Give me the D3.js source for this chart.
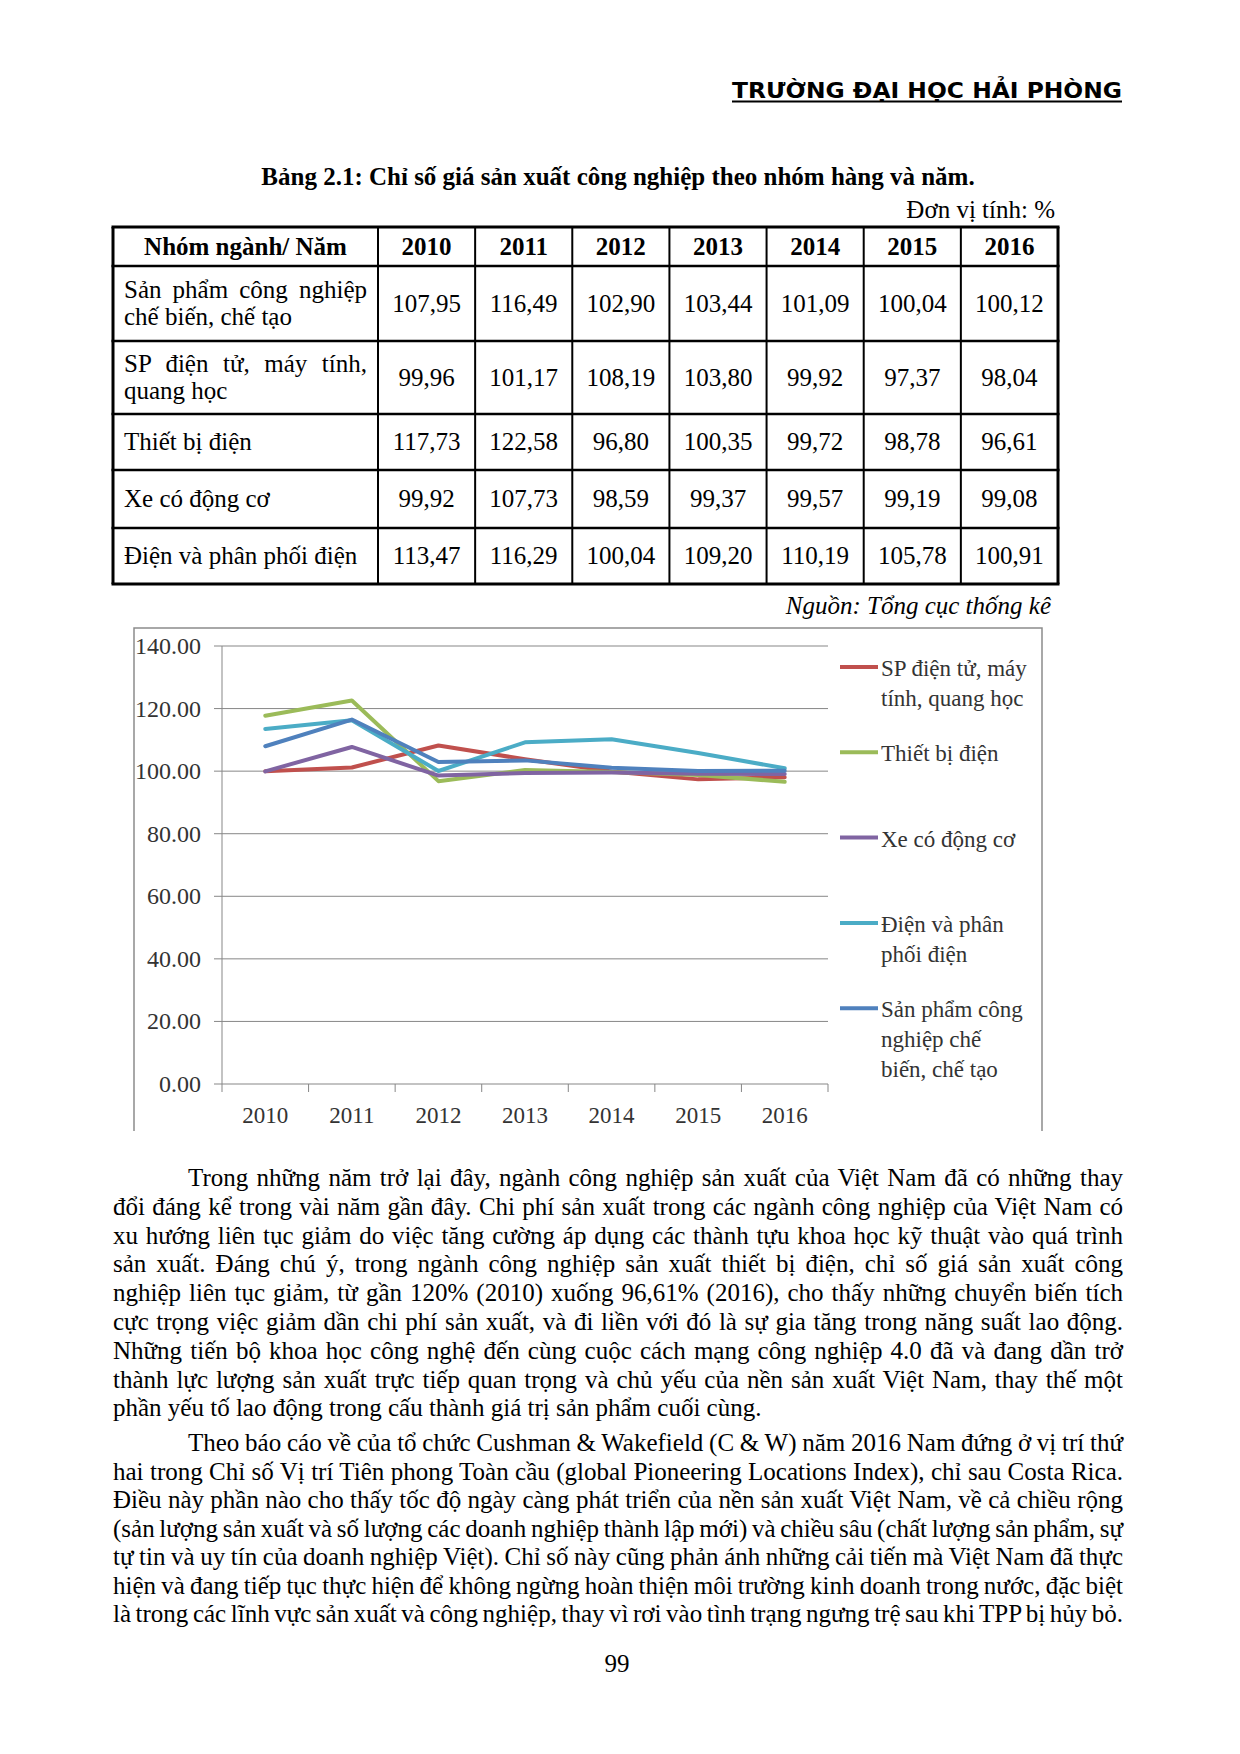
<!DOCTYPE html>
<html>
<head>
<meta charset="utf-8">
<script src="https://cdn.jsdelivr.net/npm/d3@7"></script>
<style>
  html, body { margin: 0; padding: 0; background: #fff; }
  svg { display: block; }
</style>
</head>
<body>
<script>
'use strict';

// ---- data (Bảng 2.1) ----
const years = ['2010', '2011', '2012', '2013', '2014', '2015', '2016'];

const sanPhamCN    = [107.95, 116.49, 102.90, 103.44, 101.09, 100.04, 100.12];
const dienTu       = [99.96, 101.17, 108.19, 103.80, 99.92, 97.37, 98.04];
const thietBiDien  = [117.73, 122.58, 96.80, 100.35, 99.72, 98.78, 96.61];
const xeCoDongCo   = [99.92, 107.73, 98.59, 99.37, 99.57, 99.19, 99.08];
const dienPhanPhoi = [113.47, 116.29, 100.04, 109.20, 110.19, 105.78, 100.91];

const tableLabels = [
  ['Sản phẩm công nghiệp', 'chế biến, chế tạo'],
  ['SP điện tử, máy tính,', 'quang học'],
  ['Thiết bị điện'],
  ['Xe có động cơ'],
  ['Điện và phân phối điện']
];
const tableValues = [sanPhamCN, dienTu, thietBiDien, xeCoDongCo, dienPhanPhoi];

// chart series, in legend order
const legendLabels = [
  ['SP điện tử, máy', 'tính, quang học'],
  ['Thiết bị điện'],
  ['Xe có động cơ'],
  ['Điện và phân', 'phối điện'],
  ['Sản phẩm công', 'nghiệp chế', 'biến, chế tạo']
];
const chartValues = [dienTu, thietBiDien, xeCoDongCo, dienPhanPhoi, sanPhamCN];
const seriesColors = ['#C0504D', '#9BBB59', '#8064A2', '#4BACC6', '#4F81BD'];

const yTicks = [0, 20, 40, 60, 80, 100, 120, 140];

const para1 = [
  'Trong những năm trở lại đây, ngành công nghiệp sản xuất của Việt Nam đã có những thay',
  'đổi đáng kể trong vài năm gần đây. Chi phí sản xuất trong các ngành công nghiệp của Việt Nam có',
  'xu hướng liên tục giảm do việc tăng cường áp dụng các thành tựu khoa học kỹ thuật vào quá trình',
  'sản xuất. Đáng chú ý, trong ngành công nghiệp sản xuất thiết bị điện, chỉ số giá sản xuất công',
  'nghiệp liên tục giảm, từ gần 120% (2010) xuống 96,61% (2016), cho thấy những chuyển biến tích',
  'cực trọng việc giảm dần chi phí sản xuất, và đi liền với đó là sự gia tăng trong năng suất lao động.',
  'Những tiến bộ khoa học công nghệ đến cùng cuộc cách mạng công nghiệp 4.0 đã và đang dần trở',
  'thành lực lượng sản xuất trực tiếp quan trọng và chủ yếu của nền sản xuất Việt Nam, thay thế một',
  'phần yếu tố lao động trong cấu thành giá trị sản phẩm cuối cùng.'
];
const para2 = [
  'Theo báo cáo về của tổ chức Cushman & Wakefield (C & W) năm 2016 Nam đứng ở vị trí thứ',
  'hai trong Chỉ số Vị trí Tiên phong Toàn cầu (global Pioneering Locations Index), chỉ sau Costa Rica.',
  'Điều này phần nào cho thấy tốc độ ngày càng phát triển của nền sản xuất Việt Nam, về cả chiều rộng',
  '(sản lượng sản xuất và số lượng các doanh nghiệp thành lập mới) và chiều sâu (chất lượng sản phẩm, sự',
  'tự tin và uy tín của doanh nghiệp Việt). Chỉ số này cũng phản ánh những cải tiến mà Việt Nam đã thực',
  'hiện và đang tiếp tục thực hiện để không ngừng hoàn thiện môi trường kinh doanh trong nước, đặc biệt',
  'là trong các lĩnh vực sản xuất và công nghiệp, thay vì rơi vào tình trạng ngưng trệ sau khi TPP bị hủy bỏ.'
];

// ---- page ----
const W = 1240, H = 1754;
const serif = "'Liberation Serif', 'Times New Roman', serif";
const marginL = 113, marginR = 1123;
const textSize = 25;

const svg = d3.select('body').append('svg')
  .attr('width', W)
  .attr('height', H);

svg.append('rect').attr('width', W).attr('height', H).attr('fill', '#fff');

// stretch spaces so a line fills the given width
const justify = (sel, width) => {
  const natural = sel.node().getComputedTextLength();
  const spaces = (sel.text().match(/ /g) || []).length;
  if (spaces > 0) sel.attr('word-spacing', (width - natural) / spaces);
};

// header
svg.append('text')
  .attr('x', marginR - 1)
  .attr('y', 98)
  .attr('text-anchor', 'end')
  .attr('font-family', "'DejaVu Sans', Verdana, sans-serif")
  .attr('font-weight', 'bold')
  .attr('font-size', 22)
  .attr('textLength', 390)
  .attr('lengthAdjust', 'spacingAndGlyphs')
  .text('TRƯỜNG ĐẠI HỌC HẢI PHÒNG');
svg.append('line')
  .attr('x1', marginR - 391).attr('x2', marginR - 1)
  .attr('y1', 101.5).attr('y2', 101.5)
  .attr('stroke', '#000').attr('stroke-width', 1.8);

// caption
svg.append('text')
  .attr('x', 618).attr('y', 185)
  .attr('text-anchor', 'middle')
  .attr('font-family', serif).attr('font-weight', 'bold').attr('font-size', textSize)
  .text('Bảng 2.1: Chỉ số giá sản xuất công nghiệp theo nhóm hàng và năm.');
svg.append('text')
  .attr('x', 1055).attr('y', 218)
  .attr('text-anchor', 'end')
  .attr('font-family', serif).attr('font-size', textSize)
  .text('Đơn vị tính: %');

// ---- table ----
const tLeft = 113, tRight = 1058, labelRight = 378;
const rowEdges = [227, 266, 341, 414, 470, 528, 584];
const col = d3.scaleBand().domain(years).range([labelRight, tRight]);
const fmt = v => d3.format('.2f')(v).replace('.', ',');

const table = svg.append('g').attr('font-family', serif).attr('font-size', textSize);

rowEdges.forEach((yy, i) => {
  const outer = i === 0 || i === rowEdges.length - 1;
  table.append('line')
    .attr('x1', tLeft - 1.5).attr('x2', tRight + 1.5)
    .attr('y1', yy).attr('y2', yy)
    .attr('stroke', '#000').attr('stroke-width', outer ? 3 : 2.4);
});
const vEdges = [tLeft, labelRight].concat(years.map(d => col(d) + col.bandwidth()));
vEdges.forEach((xx, i) => {
  const outer = i === 0 || i === vEdges.length - 1;
  table.append('line')
    .attr('x1', xx).attr('x2', xx)
    .attr('y1', rowEdges[0]).attr('y2', rowEdges[rowEdges.length - 1])
    .attr('stroke', '#000').attr('stroke-width', outer ? 3 : 2);
});

const hdrY = (rowEdges[0] + rowEdges[1]) / 2 + 8;
table.append('text')
  .attr('x', (tLeft + labelRight) / 2).attr('y', hdrY)
  .attr('text-anchor', 'middle').attr('font-weight', 'bold')
  .text('Nhóm ngành/ Năm');
table.selectAll('.yr').data(years).enter().append('text')
  .attr('class', 'yr')
  .attr('x', d => col(d) + col.bandwidth() / 2).attr('y', hdrY)
  .attr('text-anchor', 'middle').attr('font-weight', 'bold')
  .text(d => d);

tableValues.forEach((vals, r) => {
  const cy = (rowEdges[r + 1] + rowEdges[r + 2]) / 2;
  const lines = tableLabels[r];
  lines.forEach((ln, k) => {
    const t = table.append('text')
      .attr('x', 124)
      .attr('y', cy + 8 + (k - (lines.length - 1) / 2) * 27)
      .text(ln);
    if (lines.length > 1 && k === 0) justify(t, 243);
  });
  table.selectAll('.v' + r).data(vals).enter().append('text')
    .attr('class', 'v' + r)
    .attr('x', (d, i) => col(years[i]) + col.bandwidth() / 2)
    .attr('y', cy + 8)
    .attr('text-anchor', 'middle')
    .text(d => fmt(d));
});

svg.append('text')
  .attr('x', 1051).attr('y', 614)
  .attr('text-anchor', 'end')
  .attr('font-family', serif).attr('font-style', 'italic').attr('font-size', textSize)
  .text('Nguồn: Tổng cục thống kê');

// ---- chart ----
const chart = svg.append('g').attr('font-family', serif).attr('font-size', 23);

chart.append('path')
  .attr('d', 'M134,1131V628H1042V1131')
  .attr('fill', 'none').attr('stroke', '#8c8c8c').attr('stroke-width', 1.5);

const x = d3.scaleBand().domain(years).range([222, 828]);
const y = d3.scaleLinear().domain([0, 140]).range([1084, 646]);

chart.selectAll('.grid').data(yTicks).enter().append('line')
  .attr('class', 'grid')
  .attr('x1', 214).attr('x2', 828)
  .attr('y1', d => y(d)).attr('y2', d => y(d))
  .attr('stroke', '#878787').attr('stroke-width', 1);

chart.append('line')
  .attr('x1', 222).attr('x2', 222)
  .attr('y1', y(140)).attr('y2', y(0))
  .attr('stroke', '#878787').attr('stroke-width', 1);

const xEdges = years.map(d => x(d)).concat([x.range()[1]]);
chart.selectAll('.xt').data(xEdges).enter().append('line')
  .attr('class', 'xt')
  .attr('x1', d => d).attr('x2', d => d)
  .attr('y1', y(0)).attr('y2', y(0) + 8)
  .attr('stroke', '#878787').attr('stroke-width', 1);

chart.selectAll('.yl').data(yTicks).enter().append('text')
  .attr('class', 'yl')
  .attr('x', 201).attr('y', d => y(d) + 8)
  .attr('text-anchor', 'end').attr('fill', '#333').attr('font-size', 24)
  .text(d => d3.format('.2f')(d));

chart.selectAll('.xl').data(years).enter().append('text')
  .attr('class', 'xl')
  .attr('x', d => x(d) + x.bandwidth() / 2).attr('y', 1123)
  .attr('text-anchor', 'middle').attr('fill', '#333')
  .text(d => d);

const line = d3.line()
  .x((d, i) => x(years[i]) + x.bandwidth() / 2)
  .y(d => y(d));

chart.selectAll('.series').data(chartValues).enter().append('path')
  .attr('class', 'series')
  .attr('d', d => line(d))
  .attr('fill', 'none')
  .attr('stroke', (d, i) => seriesColors[i])
  .attr('stroke-width', 4)
  .attr('stroke-linejoin', 'round')
  .attr('stroke-linecap', 'round');

// legend
const legend = chart.selectAll('.lg').data(legendLabels).enter().append('g')
  .attr('class', 'lg')
  .attr('transform', (d, i) => `translate(0,${667 + i * 85.3})`);
legend.append('line')
  .attr('x1', 840).attr('x2', 878)
  .attr('stroke', (d, i) => seriesColors[i]).attr('stroke-width', 4);
legend.each(function (lines) {
  const g = d3.select(this);
  lines.forEach((ln, k) => {
    g.append('text').attr('x', 881).attr('y', 9 + k * 30)
      .attr('fill', '#333').text(ln);
  });
});

// ---- body text ----
const body = svg.append('g').attr('font-family', serif).attr('font-size', textSize);
const writePara = (lines, top, step, justifyLast) => {
  lines.forEach((ln, i) => {
    const x0 = i === 0 ? 188 : marginL;
    const t = body.append('text').attr('x', x0).attr('y', top + i * step).text(ln);
    if (i < lines.length - 1 || justifyLast) justify(t, marginR - x0);
  });
};
writePara(para1, 1186, 28.8, false);
writePara(para2, 1451, 28.5, true);

body.append('text')
  .attr('x', 617).attr('y', 1672)
  .attr('text-anchor', 'middle')
  .text('99');
</script>
</body>
</html>
